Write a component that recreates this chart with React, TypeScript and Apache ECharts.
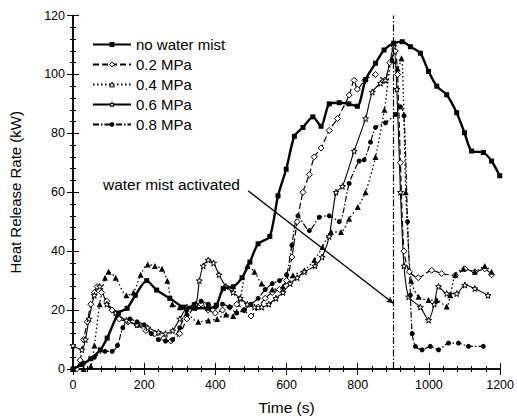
import React, { useEffect, useRef } from "react";
import * as echarts from "echarts";

const xTicks = [0, 200, 400, 600, 800, 1000, 1200];
const yTicks = [0, 20, 40, 60, 80, 100, 120];

const seriesNames = ["no water mist", "0.2 MPa", "0.4 MPa", "0.6 MPa", "0.8 MPa"];

const noMistT = [0, 25, 50, 77, 96, 128, 152, 175, 207, 235, 272, 310, 342, 380, 403, 422, 450, 475, 497, 520, 553, 576, 599, 622, 646, 674, 697, 720, 748, 775, 799, 822, 850, 874, 901, 925, 948, 976, 999, 1022, 1050, 1078, 1100, 1120, 1153, 1176, 1199];
const noMistV = [0, 1.5, 3.5, 6.5, 10.5, 19, 20.6, 25, 30, 26.8, 24, 21, 20.6, 20.6, 21.7, 27.3, 27.9, 31, 36.3, 42.5, 45, 58.8, 67.8, 79, 82, 85.6, 82.4, 90, 90.4, 90, 89.2, 98.2, 103.8, 108.3, 110.6, 111.1, 109.4, 107.2, 101, 96, 93.1, 87, 80.2, 74, 73.5, 70.6, 65.6];

const p02T = [10, 20, 30, 40, 50, 60, 68, 80, 95, 110, 130, 155, 180, 205, 230, 255, 275, 300, 320, 340, 360, 380, 400, 420, 440, 460, 480, 500, 520, 540, 560, 580, 600, 615, 630, 646, 664, 678, 697, 720, 743, 776, 790, 799, 820, 850, 875, 890, 905, 912, 920, 930, 945, 970, 1008, 1036, 1074, 1101, 1129, 1157, 1176];
const p02V = [0, 3, 10, 16, 22, 26, 28, 26, 23, 20, 17, 16, 15, 13, 12, 10.5, 9.5, 12, 17, 21, 22, 20, 19, 20, 21, 22, 20, 18, 21, 24, 26, 27, 30, 38, 50, 60, 66, 72, 75, 81, 85, 93, 98, 95, 98, 100, 98, 104, 108, 100, 70, 40, 33, 31, 33.5, 32.4, 31.8, 34, 33, 34, 32];

const p04T = [0, 30, 50, 60, 75, 90, 100, 120, 150, 170, 190, 210, 230, 250, 265, 279, 300, 320, 352, 380, 405, 430, 450, 470, 490, 510, 530, 560, 590, 618, 650, 678, 701, 725, 753, 776, 800, 822, 850, 875, 897, 912, 923, 935, 950, 971, 999, 1022, 1050, 1060, 1074, 1097, 1129, 1157, 1176];
const p04V = [0, 0, 1, 8, 22, 31, 33, 31, 25, 26, 32, 35.5, 35, 34, 30, 22, 21, 19, 16, 16.5, 17, 18.5, 18, 24, 35, 33, 29, 27, 28, 31.8, 33.5, 37, 41.4, 46.5, 46.5, 51, 55, 60, 72, 88, 105, 102, 105.5, 60, 30, 24.5, 23.4, 23.4, 21.2, 25, 32, 34, 33, 35, 33];

const p06T = [0, 25, 35, 45, 60, 75, 95, 120, 150, 180, 210, 240, 260, 280, 300, 320, 345, 355, 366, 380, 395, 410, 430, 450, 470, 490, 510, 530, 550, 570, 590, 610, 630, 650, 680, 700, 720, 739, 757, 790, 822, 841, 864, 878, 901, 910, 920, 930, 943, 976, 999, 1015, 1027, 1050, 1078, 1101, 1129, 1166];
const p06V = [8, 6.5, 10, 17, 25, 28, 22, 19, 16.5, 15, 14, 12.5, 12, 13, 17, 21, 22, 30, 35, 37, 36, 32, 28, 26, 24, 22, 21, 21, 22, 24, 26, 29, 31, 33, 35, 38, 45, 60, 62, 74, 85, 94, 97, 98, 109.5, 95, 60, 35, 24.5, 21, 16.6, 22, 28, 25.6, 25.6, 28.5, 27.3, 25];

const p08T = [0, 30, 60, 90, 110, 125, 140, 160, 180, 200, 220, 240, 260, 280, 300, 320, 340, 360, 380, 400, 420, 440, 460, 480, 500, 520, 540, 560, 580, 600, 615, 632, 664, 692, 720, 748, 776, 804, 818, 836, 850, 878, 906, 920, 930, 940, 948, 953, 962, 981, 1004, 1027, 1055, 1083, 1111, 1153];
const p08V = [0, 2, 4, 6, 6, 8, 14, 17, 16, 15, 12, 10, 9.5, 10, 14, 20, 22, 23, 22, 21, 22, 21, 19, 20, 22, 24, 27, 29, 30, 32, 42, 52, 47, 51.5, 52, 50, 63, 70.6, 71, 77, 82, 83.6, 86.4, 89, 86, 50, 25, 12, 7.7, 6.5, 7.7, 6.5, 8.8, 8.8, 7.7, 7.7];

const activationTime = [900];
const arrowFrom = [492, 60.5];
const arrowTo = [900, 22.3];
const annotationText = "water mist activated";

const zip = (t: number[], v: number[]) => t.map((x, i) => [x, v[i]]);

const starPath =
  "path://M0,-5L1.2,-1.6L4.8,-1.5L1.9,0.6L2.9,4L0,2L-2.9,4L-1.9,0.6L-4.8,-1.5L-1.2,-1.6Z";

export default function App() {
  const ref = useRef<HTMLDivElement>(null);
  useEffect(() => {
    if (!ref.current) return;
    document.body.style.margin = "0";
    const chart = echarts.init(ref.current, null, { renderer: "svg" });
    const font = "Arial, 'Liberation Sans', Helvetica, sans-serif";
    const black = "#000";
    const openStyle = { color: "#fff", borderColor: black, borderWidth: 1 };
    const axisCommon = {
      axisLine: { show: true, lineStyle: { color: black, width: 1.5 } },
      axisTick: { show: true, inside: true, length: 6, lineStyle: { color: black, width: 1 } },
      minorTick: { show: true, splitNumber: 5, length: 3, lineStyle: { color: black, width: 1 } },
      splitLine: { show: false },
      minorSplitLine: { show: false },
    };
    const mk = (
      name: string,
      data: number[][],
      lineType: any,
      width: number,
      symbol: string,
      symbolSize: number,
      filled: boolean,
      extra: any = {}
    ) => ({
      name,
      type: "line",
      data,
      smooth: 0.25,
      showSymbol: true,
      symbol,
      symbolSize,
      lineStyle: { color: black, width, type: lineType },
      itemStyle: {
        color: filled ? black : "#fff",
        borderColor: black,
        borderWidth: filled ? 0 : 1,
      },
      emphasis: { disabled: true },
      z: 3,
      ...extra,
    });
    chart.setOption({
      animation: false,
      backgroundColor: "#fff",
      grid: { left: 72, right: 15, top: 15.5, bottom: 49 },
      legend: {
        orient: "vertical",
        left: 87,
        top: 32,
        itemWidth: 38,
        itemHeight: 6,
        itemGap: 5,
        data: [
          { name: seriesNames[0] },
          { name: seriesNames[1], itemStyle: openStyle },
          { name: seriesNames[2], itemStyle: openStyle },
          { name: seriesNames[3], itemStyle: openStyle },
          { name: seriesNames[4] },
        ],
        textStyle: { color: black, fontSize: 15, fontFamily: font },
        selectedMode: false,
      },
      xAxis: [
        {
          type: "value",
          min: 0,
          max: 1200,
          interval: 200,
          name: "Time (s)",
          nameLocation: "middle",
          nameGap: 30,
          nameTextStyle: { color: black, fontSize: 15.5, fontFamily: font },
          axisLabel: {
            color: black,
            fontSize: 12.5,
            fontFamily: font,
            margin: 9,
            formatter: (v: number) => String(v),
          },
          ...axisCommon,
        },
        {
          type: "value",
          position: "top",
          min: 0,
          max: 1200,
          interval: 200,
          axisLabel: { show: false },
          ...axisCommon,
        },
      ],
      yAxis: [
        {
          type: "value",
          min: 0,
          max: 120,
          interval: 20,
          name: "Heat Release Rate (kW)",
          nameLocation: "middle",
          nameGap: 50,
          nameTextStyle: { color: black, fontSize: 15, fontFamily: font },
          axisLabel: {
            color: black,
            fontSize: 12.5,
            fontFamily: font,
            margin: 8,
            formatter: (v: number) => String(v),
          },
          ...axisCommon,
        },
        {
          type: "value",
          position: "right",
          min: 0,
          max: 120,
          interval: 20,
          axisLabel: { show: false },
          ...axisCommon,
        },
      ],
      series: [
        mk(seriesNames[0], zip(noMistT, noMistV), "solid", 2.4, "rect", 5, true, {
          z: 5,
          markLine: {
            silent: true,
            symbol: ["none", "none"],
            label: { show: false },
            lineStyle: { color: black, width: 1.2, type: [7, 2, 1.5, 2] },
            data: activationTime.map((t) => ({ xAxis: t })),
          },
        }),
        mk(seriesNames[1], zip(p02T, p02V), [6, 3], 1.2, "diamond", 6, false, {
          markLine: {
            silent: true,
            symbol: ["none", "arrow"],
            symbolSize: [5, 7],
            label: { show: false },
            lineStyle: { color: black, width: 1.3, type: "solid" },
            data: [[{ coord: arrowFrom }, { coord: arrowTo }]],
          },
        }),
        mk(seriesNames[2], zip(p04T, p04V), [1.5, 2.5], 1.3, "triangle", 6, true),
        mk(seriesNames[3], zip(p06T, p06V), "solid", 1.1, starPath, 6, false),
        mk(seriesNames[4], zip(p08T, p08V), [6, 2, 1.5, 2], 1.2, "circle", 5, true),
      ],
      graphic: [
        {
          type: "text",
          left: 103,
          top: 176,
          style: { text: annotationText, fill: black, fontSize: 15.5, fontFamily: font },
        },
      ],
    });
    return () => chart.dispose();
  }, []);
  return <div ref={ref} style={{ width: 517, height: 420 }} />;
}
